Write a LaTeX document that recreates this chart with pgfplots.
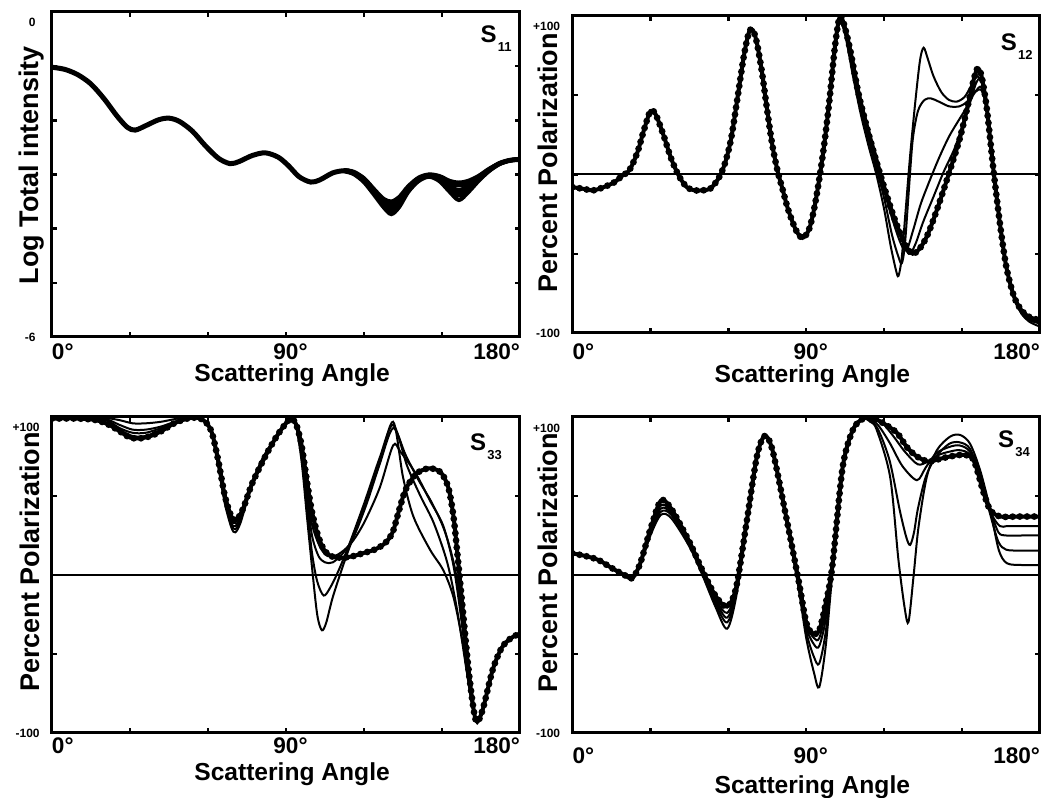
\documentclass[border=0pt]{standalone}
\usepackage{fontspec}
\setmainfont{Liberation Sans}
\usepackage{pgfplots}
\pgfplotsset{compat=1.18}

\pgfplotsset{
  panel/.style={
    scale only axis,
    xmin=0, xmax=180,
    xtick={0,30,...,180},
    xticklabels={\rlap{0°},,,90\rlap{°},,,\llap{180°}},
    axis line style={line width=1.5pt},
    major tick style={line width=1.2pt, black},
    major tick length=2.6pt,
    tick align=inside,
    xticklabel style={font=\bfseries\fontsize{11.3}{13}\selectfont, inner sep=0pt, anchor=north},
    yticklabel style={font=\bfseries\fontsize{6}{7}\selectfont, inner sep=0pt, anchor=east},
    xlabel={Scattering Angle},
    xlabel style={font=\bfseries\fontsize{12.3}{14}\selectfont, inner sep=0pt, anchor=north},
    ylabel style={font=\bfseries\fontsize{13.5}{15}\selectfont, inner sep=0pt, anchor=south},
    clip=true,
  },
  thin/.style={line width=1pt, black, smooth, tension=0.5, mark=none},
  fat/.style={line width=2.1pt, black, smooth, tension=0.5, mark=none},
  beads/.style={line width=2.0pt, black, smooth, tension=0.5, mark=none,
     postaction={draw, line width=3.4pt, dash pattern=on 0pt off 3.6pt, line cap=round}},
}
\tikzset{slab/.style={font=\bfseries\fontsize{12}{14}\selectfont, inner sep=0pt, anchor=north east}}
\newcommand{\Ssub}[1]{S\hspace{0.6pt}\raisebox{-4.5pt}{\fontsize{6.5}{7}\selectfont #1}}

\begin{document}
\begin{tikzpicture}
\useasboundingbox (0,0) rectangle (520.5pt,399pt);

% ---------------- S11 ----------------
\begin{axis}[panel,
  at={(26pt,230.5pt)}, anchor=south west,
  width=234pt, height=162.5pt,
  ymin=-6, ymax=0,
  ytick={-6,-5,...,0},
  yticklabels={-6,,,,,,},
  extra y ticks={0}, extra y tick labels={0},
  extra y tick style={yticklabel style={yshift=-5pt}},
  yticklabel style={xshift=-8pt},
  xticklabel style={yshift=-3pt},
  xlabel style={at={(axis description cs:0.513,0)}, yshift=-13pt},
  ylabel={Log Total intensity},
  ylabel style={at={(axis description cs:-0.015,0.529)}},
]
\addplot[fat, line width=2.5pt] coordinates {(0,-1.02) (5,-1.06) (10,-1.16) (15,-1.33) (20,-1.6) (25,-1.92) (29,-2.13) (32,-2.18) (36,-2.1) (41,-1.99) (45,-1.96) (49,-2.02) (54,-2.2) (59,-2.47) (64,-2.7) (68.5,-2.8) (72,-2.76) (77,-2.65) (82,-2.6) (87,-2.68) (91,-2.84) (95,-3.04) (99.5,-3.14) (103,-3.1) (108,-2.97) (112.5,-2.93) (116,-2.97) (120,-3.1) (124,-3.32) (127.5,-3.52) (130.5,-3.62) (133.5,-3.5) (137,-3.26) (141,-3.08) (145,-3.02) (149,-3.08) (153,-3.22) (156.5,-3.3) (160,-3.22) (164,-3.08) (168,-2.92) (172,-2.8) (176,-2.74) (180,-2.72)};
\addplot[fat] coordinates {(112.5,-2.92) (116,-2.95) (120,-3.07) (124,-3.28) (127.5,-3.45) (130.5,-3.5) (133.5,-3.42) (137,-3.22) (141,-3.06) (145,-3.0) (149,-3.03) (153,-3.12) (156.5,-3.15) (160,-3.12) (164,-3.03) (168,-2.9) (172,-2.8) (176,-2.74) (180,-2.72)};
\addplot[fat] coordinates {(112.5,-2.92) (116,-2.96) (120,-3.09) (124,-3.3) (127.5,-3.48) (130.5,-3.55) (133.5,-3.46) (137,-3.24) (141,-3.07) (145,-3.01) (149,-3.05) (153,-3.16) (156.5,-3.2) (160,-3.16) (164,-3.05) (168,-2.91) (172,-2.8) (176,-2.74) (180,-2.72)};
\addplot[fat] coordinates {(112.5,-2.93) (116,-2.98) (120,-3.12) (124,-3.35) (127.5,-3.56) (130.5,-3.68) (133.5,-3.55) (137,-3.29) (141,-3.1) (145,-3.03) (149,-3.1) (153,-3.27) (156.5,-3.38) (160,-3.28) (164,-3.1) (168,-2.93) (172,-2.8) (176,-2.74) (180,-2.72)};
\addplot[fat] coordinates {(112.5,-2.94) (116,-2.99) (120,-3.14) (124,-3.38) (127.5,-3.6) (130.5,-3.73) (133.5,-3.6) (137,-3.32) (141,-3.12) (145,-3.04) (149,-3.12) (153,-3.32) (156.5,-3.47) (160,-3.33) (164,-3.12) (168,-2.94) (172,-2.81) (176,-2.74) (180,-2.72)};
\node[slab] at (rel axis cs:0.983,0.96) {\Ssub{11}};
\end{axis}

% ---------------- S12 ----------------
\begin{axis}[panel,
  at={(286.25pt,232.5pt)}, anchor=south west,
  width=233.75pt, height=158.5pt,
  ymin=-100, ymax=100,
  ytick={-100,-50,0,50,100},
  yticklabels={-100,,,,},
  extra y ticks={100}, extra y tick labels={+100},
  extra y tick style={yticklabel style={yshift=-5pt}},
  yticklabel style={xshift=-6pt},
  xticklabel style={yshift=-5pt},
  xlabel style={at={(axis description cs:0.513,0)}, yshift=-15.5pt},
  ylabel={Percent Polarization},
  ylabel style={at={(axis description cs:-0.031,0.536)}},
]
\addplot[line width=1pt, black] coordinates {(0,0) (180,0)};
\addplot[beads] coordinates {(0,-8) (4,-9) (8,-10) (12,-8) (16,-5) (19,-1) (22,3) (25,14) (27.5,28) (30,40) (32,38) (35,25) (38,10) (41,-1) (44,-8) (47,-10) (50,-10) (53,-9) (56,-3) (58.5,6) (61,22) (63.5,48) (66,75) (68,90) (69.5,91) (71,83) (73,64) (75,40) (77,18) (79,2) (81,-10) (83,-22) (86,-35) (88.5,-40) (91,-35) (93,-22) (95,-3) (97,20) (99,48) (101,80) (102.8,99) (104.5,95) (107,78) (110,52) (113,32) (116,14) (120,-8) (124,-28) (128,-44) (131,-50) (134,-46) (137,-37) (141,-19) (145,1) (149,22) (152,42) (154.5,60) (156,67) (157.5,62) (159.5,42) (162,4) (164.5,-30) (167,-58) (170,-77) (173,-86) (176,-90) (180,-92)};
\addplot[thin] coordinates {(102.8,99) (105,88) (108,62) (111,38) (114,18) (117,0) (120,-22) (122.5,-45) (124.5,-60) (125.5,-64) (126.8,-52) (128.3,-22) (130,12) (132,46) (133.8,72) (135.2,80) (136.8,73) (139,62) (142,52) (145,47) (148,46) (151,49) (153.5,56) (155.5,62) (157.5,58) (159.5,42) (162,4) (164.5,-30) (167,-58) (170,-78) (173,-88) (176,-93) (180,-96)};
\addplot[thin] coordinates {(102.8,99) (105,89) (108,66) (111,42) (114,22) (117,4) (120,-15) (123,-38) (125.5,-52) (126.8,-56) (128,-44) (129.5,-10) (131,22) (133,40) (135.5,47) (138,48) (141,46) (145,43) (149,43) (152,46) (155,52) (157.5,53) (159.5,40) (162,4) (164.5,-30) (167,-58) (170,-78) (173,-88) (176,-92) (180,-94)};
\addplot[thin] coordinates {(102.8,99) (105,90) (108,68) (111,45) (114,26) (118,2) (122,-22) (126,-42) (128.5,-48) (131,-36) (134,-19) (137,-6) (141,10) (145,24) (149,35) (152,43) (155,52) (157.5,55) (159.5,41) (162,4) (164.5,-30) (167,-58) (170,-77) (173,-87) (176,-91) (180,-93)};
\addplot[thin] coordinates {(102.8,99) (105,92) (108,72) (111,48) (114,29) (118,6) (122,-18) (126,-38) (129.5,-50) (132,-44) (135,-30) (139,-14) (143,2) (147,16) (150,30) (153,45) (155.5,58) (157.5,60) (159.5,42) (162,4) (164.5,-30) (167,-58) (170,-77) (173,-86) (176,-90) (180,-91)};
\node[slab] at (rel axis cs:0.985,0.946) {\Ssub{12}};
\end{axis}

% ---------------- S33 ----------------
\begin{axis}[panel,
  at={(26pt,32.5pt)}, anchor=south west,
  width=234pt, height=158pt,
  ymin=-100, ymax=100,
  ytick={-100,-50,0,50,100},
  yticklabels={-100,,,,},
  extra y ticks={100}, extra y tick labels={+100},
  extra y tick style={yticklabel style={yshift=-5pt}},
  yticklabel style={xshift=-6pt},
  xticklabel style={yshift=-2pt},
  xlabel style={at={(axis description cs:0.513,0)}, yshift=-14.5pt},
  ylabel={Percent Polarization},
  ylabel style={at={(axis description cs:-0.026,0.541)}},
]
\addplot[line width=1pt, black] coordinates {(0,0) (180,0)};
\addplot[thin] coordinates {(0,100) (10,100) (20,99.5) (26,98) (31,96) (36,96) (42,97) (50,99.5) (56,100) (59,97) (61.5,89) (64,68) (66.5,45) (69,30) (70.5,27) (72.5,33) (76,52) (81,72) (86,87) (90,97) (92,99) (94,93) (96,72) (98,38) (100,5) (102,-25) (103.8,-35) (105.5,-30) (108,-14) (113,11) (119.7,41) (126,71) (131.2,97) (135,62) (139,37) (145.4,16) (150.5,3) (154.4,-14) (158,-43) (160.8,-75) (163,-92) (165.5,-86) (169.5,-60) (173,-46) (176.5,-40) (180,-37)};
\addplot[thin] coordinates {(0,100) (10,100) (20,99) (26,95) (31,92) (36,92) (42,94) (50,98.5) (56,99.5) (59,97) (61.5,90) (64,70) (66.5,47) (69,32) (70.5,29) (72.5,35) (76,53) (81,73) (86,87) (90,97) (92,99) (94,93) (96,74) (98,44) (100,14) (102,-4) (104.5,-13) (107,-8) (110,2) (114,18) (120,45) (126,74) (131.2,95) (136.6,69) (141.7,50) (146.8,33) (152,8) (155.8,-22) (160,-66) (163,-92) (165.5,-86) (169.5,-60) (173,-46) (176.5,-40) (180,-37)};
\addplot[thin] coordinates {(0,100) (10,100) (20,98.5) (26,93) (31,90) (36,90) (42,93) (50,98) (56,99.5) (59,97) (61.5,90) (64,71) (66.5,48) (69,33) (70.5,31) (72.5,37) (76,54) (81,73) (86,87) (90,97) (92,99) (94,94) (96,76) (98,50) (100,25) (102.5,12) (105,8) (108,8) (112,14) (116,24) (121,45) (126,70) (131.2,93) (136,76) (141,60) (146,46) (151,28) (155,4) (158,-30) (161,-72) (163,-92) (165.5,-86) (169.5,-60) (173,-46) (176.5,-40) (180,-37)};
\addplot[thin] coordinates {(0,100) (10,100) (20,98.5) (26,92) (31,88) (36,88) (42,92) (50,97.5) (56,99.5) (59,97) (61.5,90) (64,71) (66.5,49) (69,35) (70.5,33) (72.5,39) (76,55) (81,74) (86,87) (90,97) (92,99) (94,94) (96,77) (98,53) (100,32) (103,18) (106,12) (110,13) (115,20) (120,33) (126,55) (131.2,82) (134,78) (140,64) (145.4,47) (150.5,31) (154.4,6) (157.6,-30) (161,-72) (163,-92) (165.5,-86) (169.5,-60) (173,-46) (176.5,-40) (180,-37)};
\addplot[beads] coordinates {(0,99) (10,99) (17,98) (22,95) (26,91) (30,87) (34,86.5) (38,88) (42,91) (47,96) (52,99) (56,99.5) (59,97) (61.5,90) (64,72) (66.5,50) (69,37) (71,35) (73.5,42) (77,58) (82,75) (86.5,88) (90,96) (92,99) (94,95) (96,82) (98,60) (100,40) (102.5,24) (105,15) (108,11.5) (112,11) (116,12) (120,14) (124,16) (128,20) (131,27) (133.5,41) (136,54) (140,64) (145,67.5) (149.5,65) (152.5,55) (154.5,36) (156,12) (158,-22) (160.5,-64) (163,-92) (165.5,-86) (169.5,-60) (173,-46) (176.5,-40) (180,-37)};
\node[slab] at (rel axis cs:0.962,0.949) {\Ssub{33}};
\end{axis}

% ---------------- S34 ----------------
\begin{axis}[panel,
  at={(286.25pt,32.5pt)}, anchor=south west,
  width=233.75pt, height=158pt,
  ymin=-100, ymax=100,
  ytick={-100,-50,0,50,100},
  yticklabels={-100,,,,},
  extra y ticks={100}, extra y tick labels={+100},
  extra y tick style={yticklabel style={yshift=-5.5pt}},
  yticklabel style={xshift=-6pt},
  xticklabel style={yshift=-7pt},
  xlabel style={at={(axis description cs:0.513,0)}, yshift=-21pt},
  ylabel={Percent Polarization},
  ylabel style={at={(axis description cs:-0.031,0.538)}},
]
\addplot[line width=1pt, black] coordinates {(0,0) (180,0)};
\addplot[thin] coordinates {(0,13.7) (5,12) (10,9.5) (15,4.5) (20,0) (23,-2) (26,6) (30,25) (34,38) (38,36) (45,18) (50,0) (55,-20) (59.5,-34) (63,-14) (67,30) (71,74) (74,88) (77,79) (82,38) (87,-8) (90,-40) (93,-62) (95,-71) (97.5,-45) (100,0) (104,66) (108,92) (112,99) (114.6,97) (117.1,92) (122.3,62) (125.5,9.5) (128,-22) (129.4,-29.5) (131.3,-1) (133.2,30) (136.4,62) (140.3,79) (145.4,87.6) (149.3,88.6) (153.1,83) (157,66) (160.9,41) (164.1,16) (167.3,7.4) (173.7,6.3) (180,6.3)};
\addplot[thin] coordinates {(0,13.7) (5,12) (10,9.5) (15,4.5) (20,0) (23,-2) (26,6.5) (30,26) (34,40) (38,38) (45,19) (50,1) (55,-18) (59.5,-30) (63,-12) (67,31) (71,74) (74,88) (77,79) (82,38) (87,-6) (90,-36) (93,-52) (95,-56) (97.5,-36) (100,2) (104,67) (108,92) (112,99) (117,94) (122,73) (126,41) (128.5,24) (130,19) (131.5,27) (133,42) (136,62) (140,75) (145,83) (149,84) (153,80) (157,63) (160.9,38) (164,21) (167,16) (173,15.5) (180,15.5)};
\addplot[thin] coordinates {(0,13.7) (5,12) (10,9.5) (15,4.5) (20,0) (23,-2) (26,7) (30,27) (34,42) (38,39) (45,20) (50,2) (55,-16) (59.5,-27) (63,-10) (67,32) (71,75) (74,88) (77,79) (82,38) (87,-5) (90,-33) (93,-44) (95,-45) (97.5,-28) (100,4) (104,67) (108,92) (112,99) (117,96) (122,84) (127,69) (132.6,60) (136,68) (140,77) (145,81) (149,82) (153,78) (157,62) (160.9,41) (164,27) (167,25) (173,25) (180,25)};
\addplot[thin] coordinates {(0,13.7) (5,12) (10,9.5) (15,4.5) (20,0) (23,-2) (26,7) (30,28) (34,44) (38,40) (45,20) (50,2) (55,-15) (59.5,-24) (63,-9) (67,32) (71,75) (74,88) (77,79) (82,39) (87,-4) (90,-31) (93,-40) (95,-40) (97.5,-23) (100,5) (104,68) (108,92) (112,99) (118,98) (123,89) (128,78) (133,70) (137,72) (141,76) (145,78) (149,79) (153,76) (157,60) (160.9,40) (164.5,31) (168,31) (180,31)};
\addplot[beads] coordinates {(0,13.7) (5,12) (10,9.5) (15,4.5) (20,0) (23,-2) (26,7) (30,29) (34,47) (38,42) (45,21) (50,3) (55,-13) (59.5,-20) (63,-8) (67,33) (71,75) (74,88) (77,79) (82,39) (87,-3) (90,-30) (92.5,-37) (95,-35) (97.5,-18) (100,5) (104,68) (108,92) (112,99) (116,99) (119.7,96) (124.9,90) (128.7,81) (132.6,75) (137.1,71.7) (140.3,73) (145.4,75) (150.6,76) (154.4,73) (158.3,52) (160.9,41) (164.7,37) (171,37) (175,37) (180,37)};
\node[slab] at (rel axis cs:0.979,0.959) {\Ssub{34}};
\end{axis}
\end{tikzpicture}
\end{document}
